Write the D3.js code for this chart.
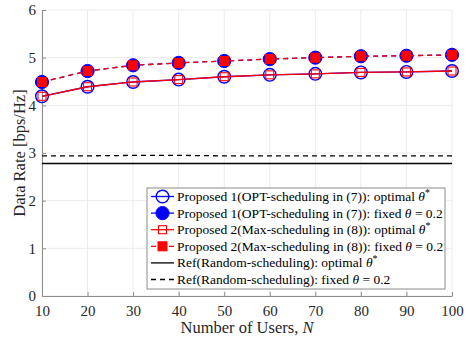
<!DOCTYPE html>
<html>
<head>
<meta charset="utf-8">
<script src="https://cdn.jsdelivr.net/npm/d3@7"></script>
<style>
  body { margin: 0; background: #fff; }
  svg text { font-family: "Liberation Serif", "DejaVu Serif", serif; }
</style>
</head>
<body>
<svg id="chart" width="468" height="339"></svg>
<script>
// data
const users = [10, 20, 30, 40, 50, 60, 70, 80, 90, 100];
const optOptimal = [4.19, 4.39, 4.49, 4.54, 4.60, 4.64, 4.66, 4.69, 4.70, 4.72];
const optFixed = [4.49, 4.72, 4.84, 4.89, 4.93, 4.97, 5.00, 5.03, 5.04, 5.06];
const maxOptimal = [4.19, 4.39, 4.49, 4.54, 4.60, 4.64, 4.66, 4.69, 4.70, 4.72];
const maxFixed = [4.49, 4.72, 4.84, 4.89, 4.93, 4.97, 5.00, 5.03, 5.04, 5.06];
const refOptimal = [2.78, 2.78, 2.78, 2.78, 2.78, 2.78, 2.78, 2.78, 2.78, 2.78];
const refFixed = [2.94, 2.94, 2.95, 2.95, 2.94, 2.94, 2.94, 2.94, 2.94, 2.94];
const yTicks = [0, 1, 2, 3, 4, 5, 6];

const margin = {top: 10, right: 16, bottom: 43, left: 42};
const width = 468 - margin.left - margin.right;
const height = 339 - margin.top - margin.bottom;

const svg = d3.select('#chart');
const chart = svg.append('g')
  .attr('transform', `translate(${margin.left},${margin.top})`);

const xScale = d3.scaleLinear().domain([10, 100]).range([0, width]);
const yScale = d3.scaleLinear().domain([0, 6]).range([height, 0]);

// grid
chart.append('g').selectAll('line')
  .data(users).join('line')
  .attr('x1', d => xScale(d)).attr('x2', d => xScale(d))
  .attr('y1', 0).attr('y2', height)
  .attr('stroke', '#ebebeb').attr('stroke-width', 1);
chart.append('g').selectAll('line')
  .data(yTicks).join('line')
  .attr('x1', 0).attr('x2', width)
  .attr('y1', d => yScale(d)).attr('y2', d => yScale(d))
  .attr('stroke', '#ebebeb').attr('stroke-width', 1);

// axes, ticks inward
const xAxis = d3.axisBottom(xScale).tickValues(users).tickSize(-4).tickPadding(7).tickSizeOuter(0)
  .tickFormat(d3.format('d'));
const yAxis = d3.axisLeft(yScale).tickValues(yTicks).tickSize(-4).tickPadding(6).tickSizeOuter(0)
  .tickFormat(d3.format('d'));

const xg = chart.append('g').attr('transform', `translate(0,${height})`).call(xAxis);
const yg = chart.append('g').call(yAxis);
[xg, yg].forEach(g => {
  g.select('.domain').attr('stroke', '#8c8c8c');
  g.selectAll('.tick line').attr('stroke', '#8c8c8c');
  g.selectAll('.tick text')
    .attr('fill', '#262626')
    .style('font-family', '"Liberation Serif", serif')
    .style('font-size', '15px');
});
xg.selectAll('.tick text').attr('dy', '0.85em');

// series
const series = [
  {name: 'Proposed 1(OPT-scheduling in (7)): optimal ', theta: 'star', vals: optOptimal, color: 'blue', dash: null, marker: 'circleOpen'},
  {name: 'Proposed 1(OPT-scheduling in (7)): fixed ', theta: 'fixed', vals: optFixed, color: 'blue', dash: '5,4', marker: 'circleFilled'},
  {name: 'Proposed 2(Max-scheduling in (8)): optimal ', theta: 'star', vals: maxOptimal, color: 'red', dash: null, marker: 'squareOpen'},
  {name: 'Proposed 2(Max-scheduling in (8)): fixed ', theta: 'fixed', vals: maxFixed, color: 'red', dash: '5,4', marker: 'squareFilled'},
  {name: 'Ref(Random-scheduling): optimal ', theta: 'star', vals: refOptimal, color: 'black', dash: null, marker: null},
  {name: 'Ref(Random-scheduling): fixed ', theta: 'fixed', vals: refFixed, color: 'black', dash: '5,4', marker: null}
];

const line = d3.line()
  .x((d, i) => xScale(users[i]))
  .y(d => yScale(d));

function drawMarker(g, type, x, y) {
  if (type === 'circleOpen') {
    g.append('circle').attr('cx', x).attr('cy', y).attr('r', 6.3)
      .attr('fill', 'none').attr('stroke', 'blue').attr('stroke-width', 1.4);
  } else if (type === 'circleFilled') {
    g.append('circle').attr('cx', x).attr('cy', y).attr('r', 6.6)
      .attr('fill', 'blue').attr('stroke', 'blue').attr('stroke-width', 1);
  } else if (type === 'squareOpen') {
    g.append('rect').attr('x', x - 4).attr('y', y - 4).attr('width', 8).attr('height', 8)
      .attr('fill', 'none').attr('stroke', 'red').attr('stroke-width', 1.1);
  } else if (type === 'squareFilled') {
    g.append('rect').attr('x', x - 4.5).attr('y', y - 4.5).attr('width', 9).attr('height', 9)
      .attr('fill', 'red').attr('stroke', 'red').attr('stroke-width', 1);
  }
}

// draw order: blue first, red on top
series.forEach(s => {
  chart.append('path')
    .datum(s.vals)
    .attr('d', line)
    .attr('fill', 'none')
    .attr('stroke', s.color)
    .attr('stroke-width', 1.3)
    .attr('stroke-dasharray', s.dash);
  if (s.marker) {
    const mg = chart.append('g');
    s.vals.forEach((v, i) => drawMarker(mg, s.marker, xScale(users[i]), yScale(v)));
  }
});

// axis labels
svg.append('text')
  .attr('x', margin.left + width / 2)
  .attr('y', 333)
  .attr('text-anchor', 'middle')
  .attr('fill', '#262626')
  .style('font-size', '16.5px')
  .html('Number of Users, <tspan font-style="italic">N</tspan>');

svg.append('text')
  .attr('transform', `translate(25,${margin.top + height / 2}) rotate(-90)`)
  .attr('text-anchor', 'middle')
  .attr('fill', '#262626')
  .style('font-size', '16.5px')
  .text('Data Rate [bps/Hz]');

// legend
const lx = 147, ly = 188, lw = 298, lh = 101, rowH = 16.6;
const legend = svg.append('g');
legend.append('rect')
  .attr('x', lx).attr('y', ly).attr('width', lw).attr('height', lh)
  .attr('fill', '#fff').attr('stroke', '#8c8c8c').attr('stroke-width', 1);

series.forEach((s, i) => {
  const cy = ly + 8.5 + rowH * i;
  const row = legend.append('g');
  row.append('line')
    .attr('x1', lx + 4).attr('x2', lx + 27)
    .attr('y1', cy).attr('y2', cy)
    .attr('stroke', s.color).attr('stroke-width', 1.3)
    .attr('stroke-dasharray', s.dash);
  drawMarker(row, s.marker, lx + 15.5, cy);
  const t = row.append('text')
    .attr('x', lx + 30).attr('y', cy + 4.5)
    .attr('fill', '#000')
    .style('font-size', '13.5px')
    .text(s.name);
  if (s.theta === 'star') {
    t.append('tspan').attr('font-style', 'italic').text('θ');
    t.append('tspan').attr('font-size', '10px').attr('dy', -5).text('*');
  } else {
    t.append('tspan').attr('font-style', 'italic').text('θ');
    t.append('tspan').text(' = 0.2');
  }
});
</script>
</body>
</html>
